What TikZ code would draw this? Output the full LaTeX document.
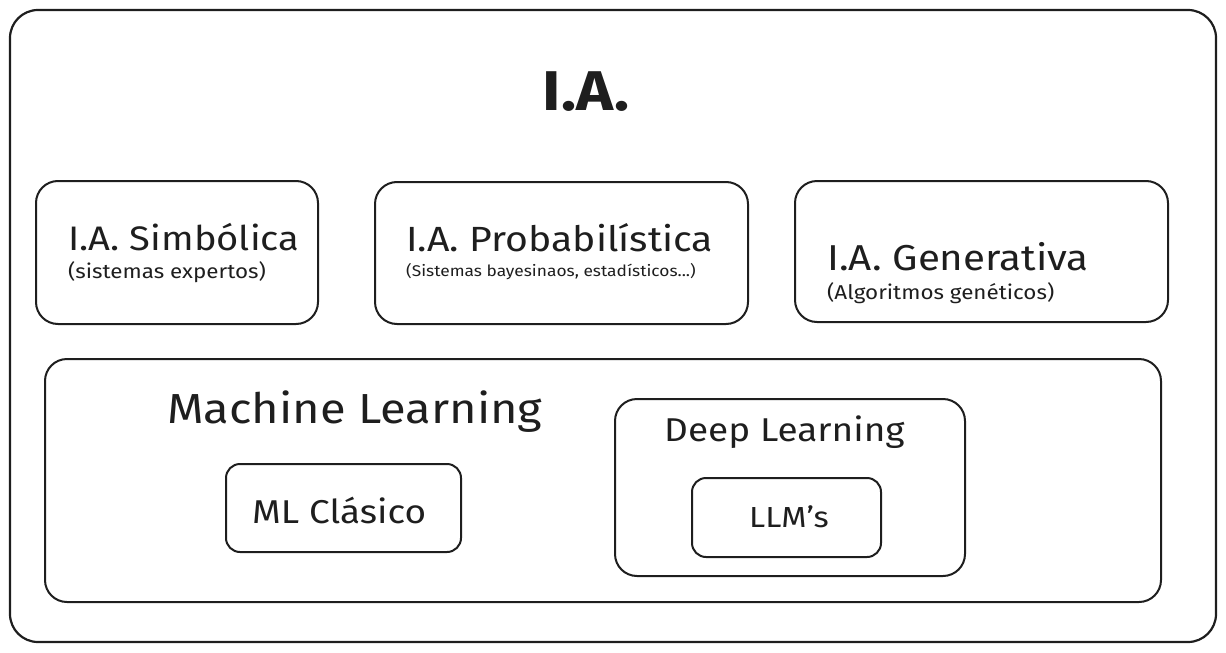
\documentclass[tikz,border=0pt]{standalone}
\usepackage{fontspec}
\setmainfont[FakeStretch=1.12]{Fira Sans}
\usetikzlibrary{positioning}
\definecolor{inkblack}{RGB}{30,30,30}

\begin{document}
\begin{tikzpicture}[x=1pt,y=-1pt,
  box/.style={draw=inkblack,line width=2pt,rounded corners=22pt},
  smallbox/.style={draw=inkblack,line width=2pt,rounded corners=14pt},
  head/.style={anchor=west,inner sep=0pt,text=inkblack,font=\fontsize{35}{40}\selectfont},
  sub/.style={anchor=west,inner sep=0pt,text=inkblack,font=\fontsize{20}{24}\selectfont}]

% Canvas
\useasboundingbox (0,0) rectangle (1226,653);

% Outer box
\draw[box,line width=2.2pt,rounded corners=28pt] (10,10) rectangle (1216,642);
\node[inner sep=0pt,text=inkblack,font=\fontsize{56}{62}\selectfont\bfseries] (ia) at (586,92) {I.A.};

% Top row
\draw[box] (36,181) rectangle (318,324);
\node[head,font=\fontsize{34}{38}\selectfont] (simb) at (68,237) {I.A. Simbólica};
\node[sub] (simbsub) at (68,272) {(sistemas expertos)};

\draw[box] (375,182) rectangle (748,324);
\node[head] (prob) at (406,238) {I.A. Probabilística};
\node[sub,font=\fontsize{15.5}{18}\selectfont] (probsub) at (406,272) {(Sistemas bayesinaos, estadísticos...)};

\draw[box] (795,181) rectangle (1168,322);
\node[head,font=\fontsize{36}{40}\selectfont] (gen) at (827,257) {I.A. Generativa};
\node[sub] (gensub) at (827,293) {(Algoritmos genéticos)};

% Machine learning
\draw[box] (45,359) rectangle (1161,602);
\node[head,font=\fontsize{42}{48}\selectfont] (ml) at (167,412) {Machine Learning};

\draw[smallbox] (226,464) rectangle (461,552);
\node[head,font=\fontsize{33}{38}\selectfont] (mlc) at (252,510) {ML Clásico};

% Deep learning
\draw[box] (615,399) rectangle (965,576);
\node[head,font=\fontsize{33}{38}\selectfont] (dl) at (664,432) {Deep Learning};

\draw[smallbox] (692,478) rectangle (881,557);
\node[head,font=\fontsize{29}{34}\selectfont] (llm) at (749,517) {LLM's};

\end{tikzpicture}
\end{document}
